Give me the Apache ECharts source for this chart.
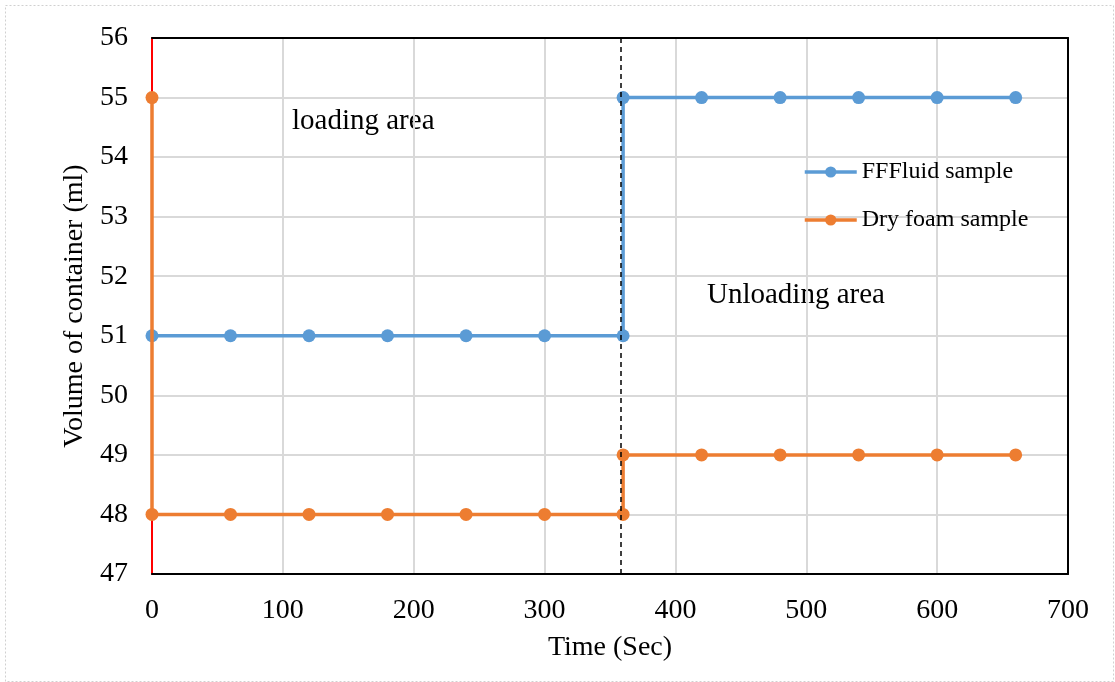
<!DOCTYPE html>
<html>
<head>
<meta charset="utf-8">
<script src="https://cdn.jsdelivr.net/npm/echarts@6/dist/echarts.min.js"></script>
<style>
  html, body { margin: 0; padding: 0; background: #fff; }
  #chart { width: 1115px; height: 682px; }
</style>
</head>
<body>
<div id="chart"></div>
<script>
  // time (sec) / volume (ml)
  var fluidTime = [0, 60, 120, 180, 240, 300, 360, 360, 420, 480, 540, 600, 660]
  var fluidVolume = [51, 51, 51, 51, 51, 51, 51, 55, 55, 55, 55, 55, 55]
  var foamTime = [0, 0, 60, 120, 180, 240, 300, 360, 360, 420, 480, 540, 600, 660]
  var foamVolume = [55, 48, 48, 48, 48, 48, 48, 48, 49, 49, 49, 49, 49, 49]
  var boundaryTime = 358

  var font = "'Liberation Serif', 'Times New Roman', serif"

  function pairs(xs, ys) {
    var out = []
    for (var i = 0; i < xs.length; i++) out.push([xs[i], ys[i]])
    return out
  }

  // 上边和右边的黑框线
  function frameAxis(extra) {
    return Object.assign({
      type: 'value',
      axisLine: { show: true, onZero: false, lineStyle: { color: '#000', width: 2 } },
      axisTick: { show: false }, axisLabel: { show: false }, splitLine: { show: false }
    }, extra)
  }

  var chart = echarts.init(document.getElementById('chart'))
  chart.setOption({
    animation: false,
    textStyle: { fontFamily: font },
    grid: { left: 152, right: 47, top: 38, bottom: 108 },
    legend: {
      orient: 'vertical',
      left: 798, top: 155,
      itemWidth: 52, itemHeight: 14, itemGap: 24,
      lineStyle: { width: 3.5 },
      textStyle: { fontFamily: font, fontSize: 24, color: '#000' },
      data: ['FFFluid sample', 'Dry foam sample']
    },
    xAxis: [{
      type: 'value', min: 0, max: 700, interval: 100,
      name: 'Time (Sec)', nameLocation: 'middle', nameGap: 60,
      nameTextStyle: { fontFamily: font, fontSize: 28, color: '#000' },
      axisLine: { show: true, onZero: false, lineStyle: { color: '#000', width: 2 } },
      axisTick: { show: false },
      axisLabel: { fontFamily: font, fontSize: 28, color: '#000', margin: 23 },
      splitLine: { show: true, lineStyle: { color: '#d9d9d9', width: 2 } }
    }, frameAxis({ position: 'top', min: 0, max: 700 })],
    yAxis: [{
      type: 'value', min: 47, max: 56, interval: 1,
      name: 'Volume of container (ml)', nameLocation: 'middle', nameGap: 60,
      nameTextStyle: { fontFamily: font, fontSize: 28, color: '#000' },
      axisLine: { show: true, onZero: false, lineStyle: { color: '#ff0000', width: 2 } },
      axisTick: { show: false },
      axisLabel: { fontFamily: font, fontSize: 28, color: '#000', margin: 24 },
      splitLine: { show: true, lineStyle: { color: '#d9d9d9', width: 2 } }
    }, frameAxis({ position: 'right', min: 47, max: 56 })],
    series: [
      {
        name: 'FFFluid sample', type: 'line',
        data: pairs(fluidTime, fluidVolume),
        symbol: 'circle', symbolSize: 13,
        itemStyle: { color: '#5b9bd5' },
        lineStyle: { color: '#5b9bd5', width: 3.5 },
        z: 3,
        markLine: {
          silent: true, symbol: 'none',
          label: { show: false },
          lineStyle: { color: '#000', type: [5, 4], width: 1.5 },
          data: [{ xAxis: boundaryTime }]
        }
      },
      {
        name: 'Dry foam sample', type: 'line',
        data: pairs(foamTime, foamVolume),
        symbol: 'circle', symbolSize: 13,
        itemStyle: { color: '#ed7d31' },
        lineStyle: { color: '#ed7d31', width: 3.5 },
        z: 4
      }
    ],
    graphic: [
      { type: 'rect', left: 3, top: 3, shape: { width: 1108, height: 676 },
        style: { fill: 'none', stroke: '#d0d0d0', lineDash: [2, 2], lineWidth: 1 } },
      { type: 'text', left: 292, top: 107,
        style: { text: 'loading area', fontFamily: font, fontSize: 29, fill: '#000' } },
      { type: 'text', left: 707, top: 281,
        style: { text: 'Unloading area', fontFamily: font, fontSize: 29, fill: '#000' } }
    ]
  })
</script>
</body>
</html>
